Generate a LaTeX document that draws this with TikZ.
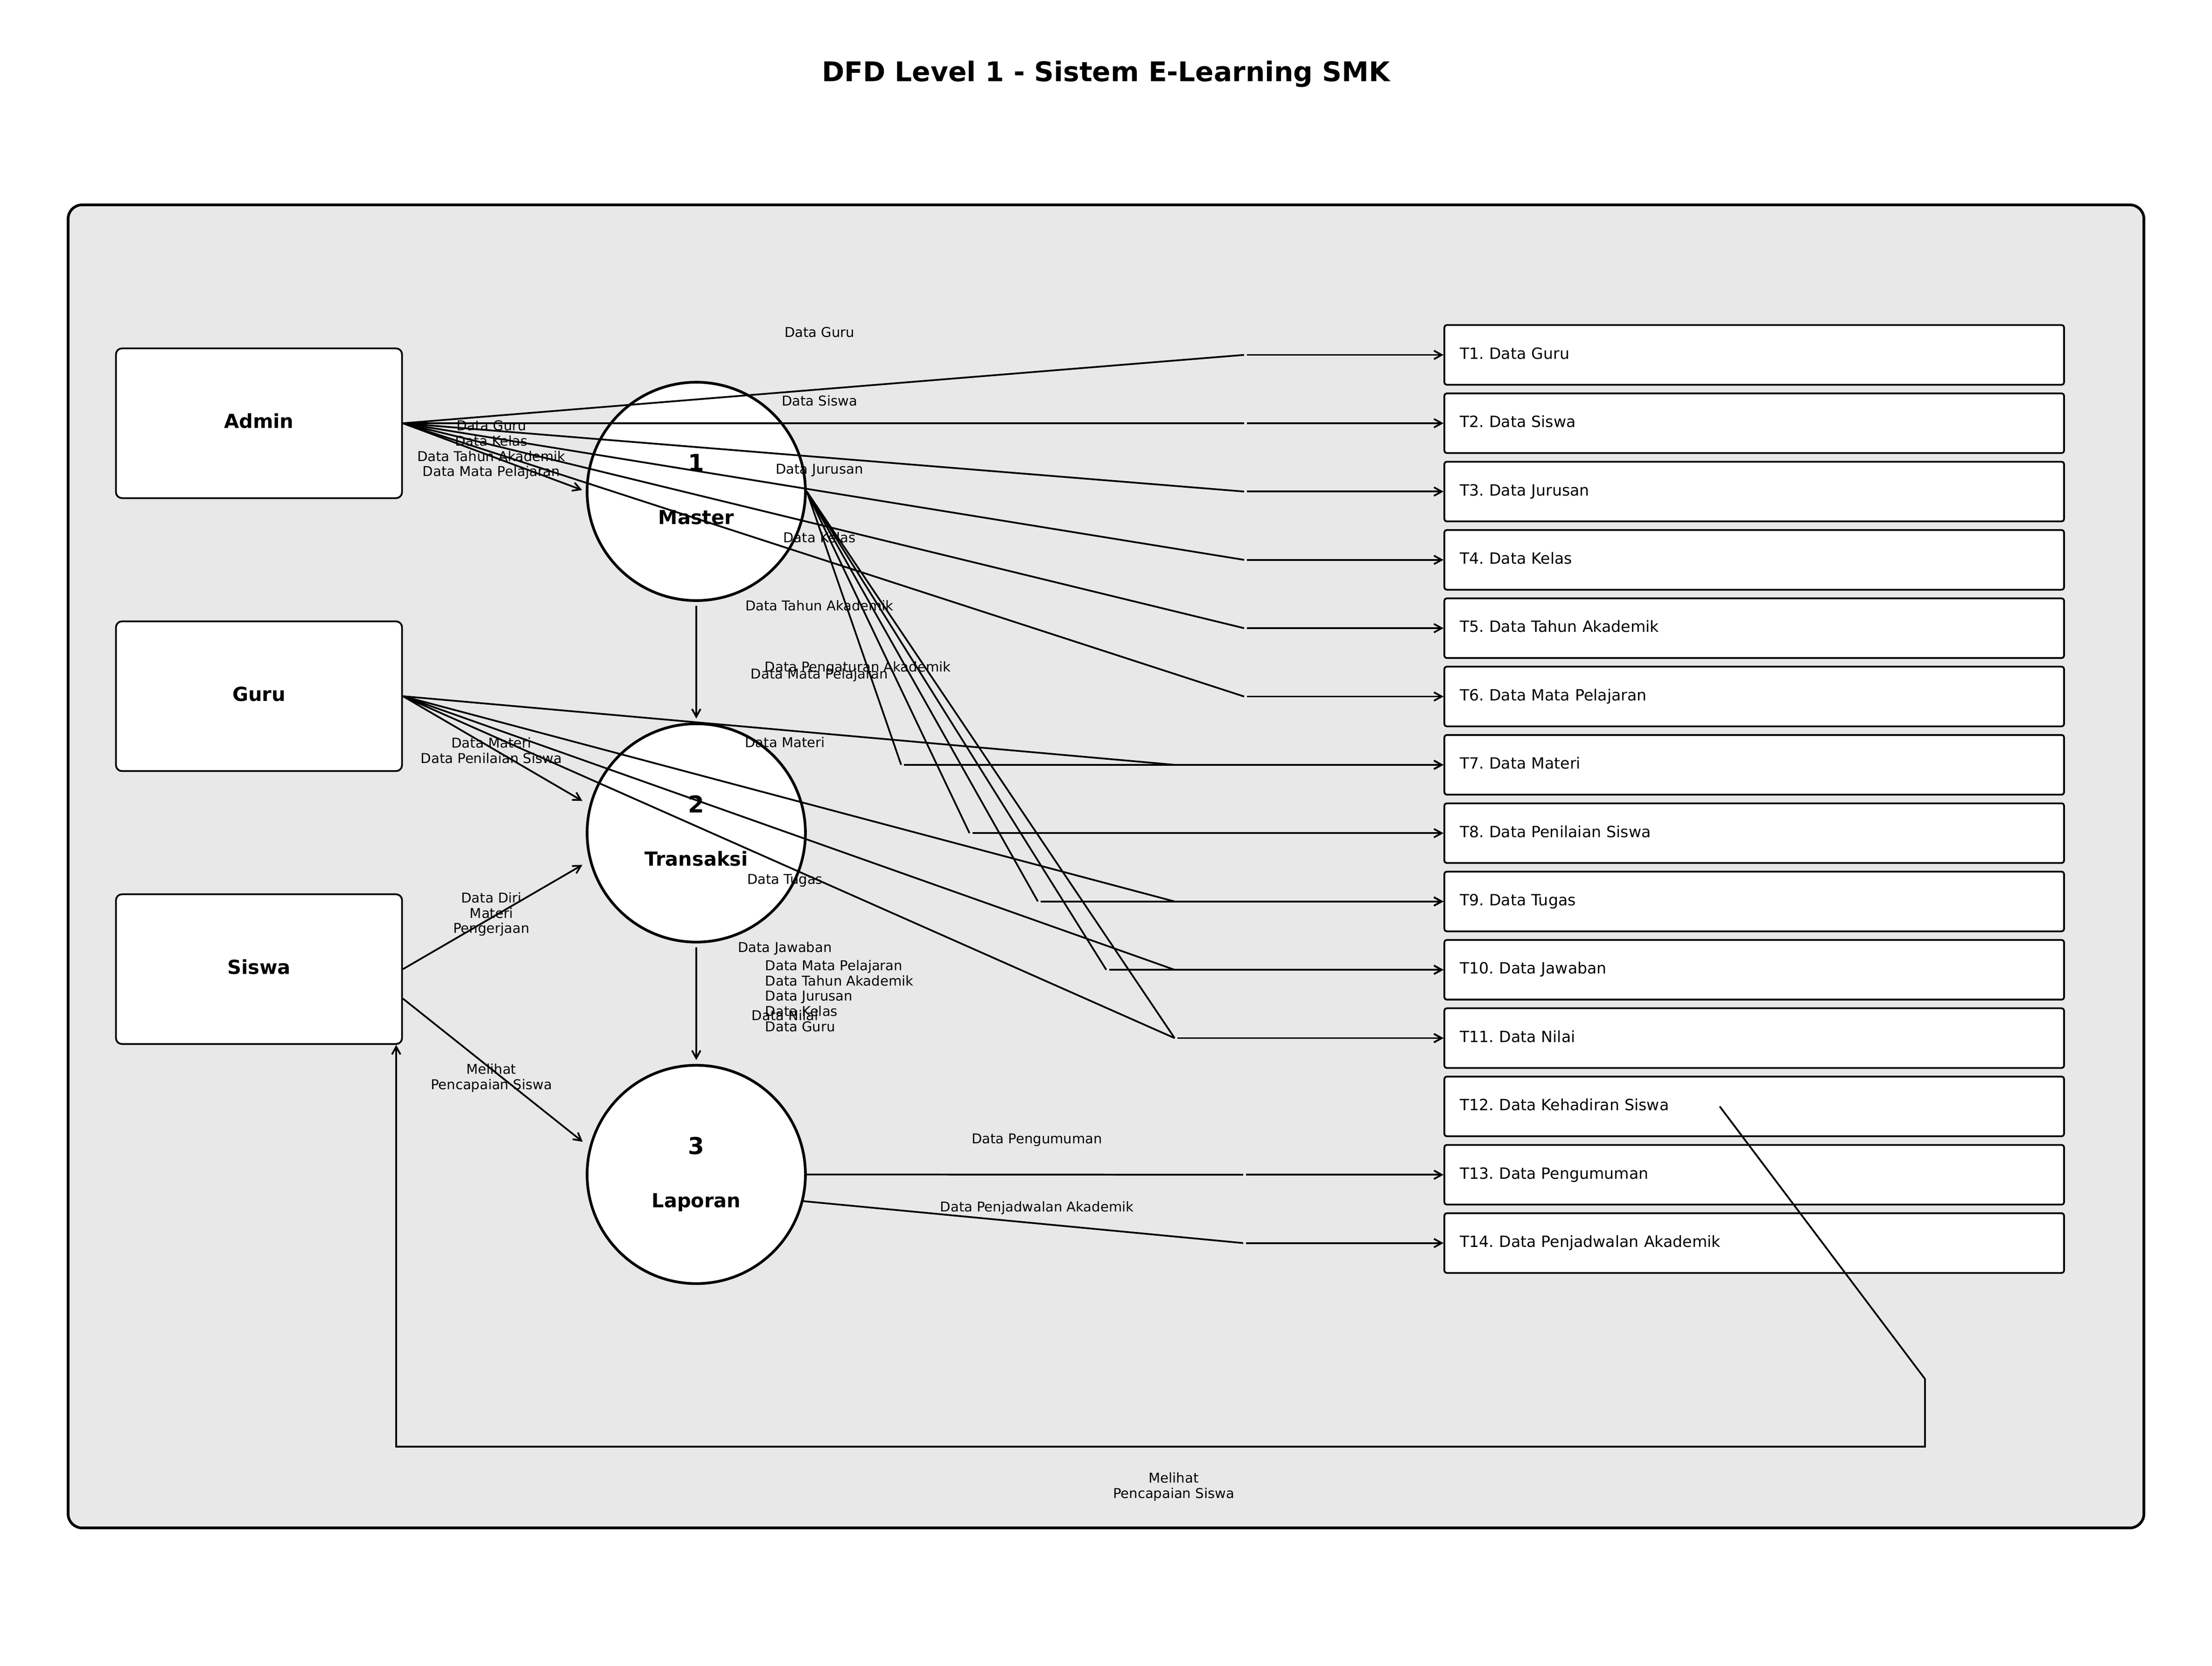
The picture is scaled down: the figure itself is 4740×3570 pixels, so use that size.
\documentclass[tikz,border=0pt]{standalone}
\usepackage{fontspec}
\setmainfont{DejaVu Sans}
\usepackage{tikz}
\usetikzlibrary{arrows.meta, positioning, calc}
\definecolor{panelgray}{HTML}{E8E8E8}
\frenchspacing

\begin{document}
\begin{tikzpicture}[x=0.2409pt, y=-0.2409pt, >={Straight Barb[length=4pt,width=4.4pt]},
  flow/.style={draw=black, line width=0.9pt},
  flowarr/.style={flow, ->, shorten <=1.5pt},
  procarr/.style={flow, ->, shorten >=2pt},
  every node/.style={inner sep=0pt}]
% Define styles for entities, processes, stores and labels
\tikzstyle{entity} = [draw, fill=white, rectangle, rounded corners=3.1pt, line width=0.9pt, minimum width=147.7pt, minimum height=77.3pt, font=\fontsize{10}{12}\selectfont\bfseries, text height=7.6pt, text depth=2.4pt]
\tikzstyle{process} = [draw, fill=white, circle, line width=1.4pt, minimum size=112.7pt]
\tikzstyle{pnum} = [font=\fontsize{12}{14}\selectfont\bfseries, text height=9.1pt, text depth=2.9pt]
\tikzstyle{pname} = [font=\fontsize{10}{12}\selectfont\bfseries, text height=7.6pt, text depth=2.4pt]
\tikzstyle{store} = [draw, fill=white, rectangle, rounded corners=1.2pt, line width=0.9pt, minimum height=30.8pt, text width=303.9pt, inner xsep=8pt, align=left, font=\fontsize{8}{9.6}\selectfont, text height=6.1pt, text depth=1.9pt]
\tikzstyle{lbl} = [font=\fontsize{7}{7.85}\selectfont, align=center]
\tikzstyle{lblone} = [lbl, text height=5.3pt, text depth=1.7pt]

\useasboundingbox (0,0) rectangle (4740,3570);

% Title and panel
\node[font=\fontsize{14}{17}\selectfont\bfseries, text height=10.6pt, text depth=3.4pt] (title) at (2370,160) {DFD Level 1 - Sistem E-Learning SMK};
\draw[fill=panelgray, line width=1.4pt, rounded corners=7.2pt] (146,439) rectangle (4594,3274);

% Nodes placement
\node[entity] (admin) at (555,907) {Admin};
\node[entity, below of=admin, node distance=140.9pt] (guru) {Guru};
\node[entity, below of=guru, node distance=140.9pt] (siswa) {Siswa};

\node[process] (master) at (1492,1053) {};
\node[process, below of=master, node distance=176.3pt] (transaksi) {};
\node[process, below of=transaksi, node distance=176.3pt] (laporan) {};
\node[pnum, above of=master, node distance=13.6pt] (masternum) {1};
\node[pname, below of=master, node distance=14.5pt] (mastername) {Master};
\node[pnum, above of=transaksi, node distance=13.6pt] (transaksinum) {2};
\node[pname, below of=transaksi, node distance=14.5pt] (transaksiname) {Transaksi};
\node[pnum, above of=laporan, node distance=13.6pt] (laporannum) {3};
\node[pname, below of=laporan, node distance=14.5pt] (laporanname) {Laporan};

\foreach \n/\txt in {1/Data Guru, 2/Data Siswa, 3/Data Jurusan, 4/Data Kelas, 5/Data Tahun Akademik, 6/Data Mata Pelajaran, 7/Data Materi, 8/Data Penilaian Siswa, 9/Data Tugas, 10/Data Jawaban, 11/Data Nilai, 12/Data Kehadiran Siswa, 13/Data Pengumuman, 14/Data Penjadwalan Akademik}
  \node[store] (t\n) at (3759,{760.5+146.4*(\n-1)}) {T\n.\ \txt};

% Admin to stores
\foreach \n/\txt in {1/Data Guru, 2/Data Siswa, 3/Data Jurusan, 4/Data Kelas, 5/Data Tahun Akademik, 6/Data Mata Pelajaran} {
  \coordinate (ja\n) at (2666,0 |- t\n);
  \draw[flow] (admin.east) -- (ja\n);
  \draw[flowarr] (ja\n) -- (t\n.west);
  \path (1756,0 |- t\n) ++(0,-45) node[lblone] {\txt};
}

% Master to stores
\foreach \n in {7,...,11} {
  \coordinate (jm\n) at ({1931+146.5*(\n-7)},0 |- t\n);
  \draw[flow] (master.east) -- (jm\n);
  \draw[flowarr] (jm\n) -- (t\n.west);
}
\node[lblone] at (1838,1432) {Data Pengaturan Akademik};

% Guru to stores
\foreach \n/\txt in {7/Data Materi, 9/Data Tugas, 10/Data Jawaban, 11/Data Nilai} {
  \coordinate (jg\n) at (2517,0 |- t\n);
  \draw[flow] (guru.east) -- (jg\n);
  \draw[flowarr] (jg\n) -- (t\n.west);
  \path (1682,0 |- t\n) ++(0,-45) node[lblone] {\txt};
}

% Laporan to stores
\coordinate (jl13) at (2664,0 |- t13);
\coordinate (jl14) at (2664,0 |- t14);
\draw[flow] (laporan.east) -- (jl13);
\draw[flowarr] (jl13) -- (t13.west);
\draw[flow] (laporan.-14) -- (jl14);
\draw[flowarr] (jl14) -- (t14.west);
\node[lblone] at (2222,2443) {Data Pengumuman};
\node[lblone] at (2222,2589) {Data Penjadwalan Akademik};

% Entities to processes
\draw[procarr] (admin.east) -- (master.west);
\draw[procarr] (guru.east) -- ([yshift=15.5pt]transaksi.west);
\draw[procarr] (siswa.east) -- ([yshift=-15.5pt]transaksi.west);
\draw[procarr] ([yshift=-15.2pt]siswa.east) -- ([yshift=15.6pt]laporan.west);
\draw[procarr, shorten <=2pt] (master.south) -- (transaksi.north);
\draw[procarr, shorten <=2pt] (transaksi.south) -- (laporan.north);

\node[lbl] at (1053,964) {Data Guru\\Data Kelas\\Data Tahun Akademik\\Data Mata Pelajaran};
\node[lbl] at (1053,1608) {Data Materi\\Data Penilaian Siswa};
\node[lbl] at (1053,1959) {Data Diri\\Materi\\Pengerjaan};
\node[lbl] at (1053,2310) {Melihat\\Pencapaian Siswa};
\node[lbl, align=left, anchor=west] at (1639,2134) {Data Mata Pelajaran\\Data Tahun Akademik\\Data Jurusan\\Data Kelas\\Data Guru};

% Feedback loop from T12 back to Siswa
\coordinate (fb1) at (4125,2955);
\coordinate (fb2) at (4125,3100);
\coordinate (fb3) at (849,3100);
\draw[flow, ->] ([xshift=-17.8pt]t12.center) -- (fb1) -- (fb2) -- (fb3) -- (fb3 |- siswa.south);
\node[lbl] at (2515,3186) {Melihat\\Pencapaian Siswa};

\end{tikzpicture}
\end{document}
